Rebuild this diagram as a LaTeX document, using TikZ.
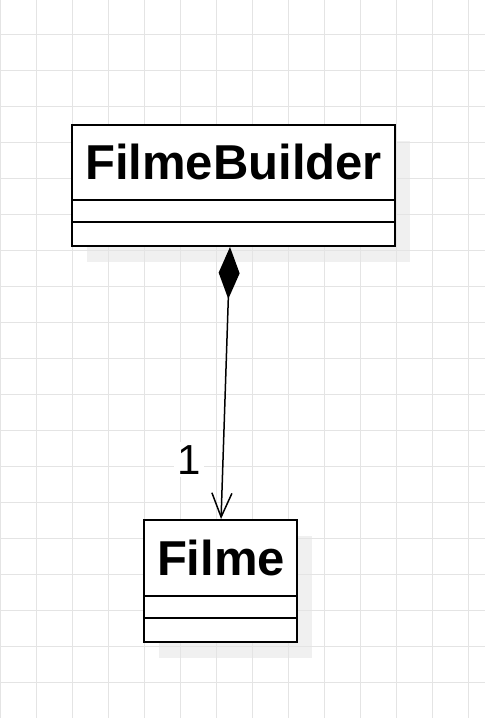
\documentclass[tikz,border=0pt]{standalone}
\usepackage{fontspec}
\setmainfont{Liberation Sans}
\usetikzlibrary{arrows.meta}
\definecolor{gridc}{HTML}{E4E4E4}
\definecolor{shadowc}{HTML}{F0F0F0}
\tikzset{
  gridline/.style={draw=gridc, line width=1.3pt},
  shadowbox/.style={fill=shadowc},
  umlbox/.style={draw=black, fill=white, line width=2pt, rectangle, inner sep=0pt},
  classtitle/.style={font=\fontsize{49}{58}\selectfont\bfseries, inner sep=0pt},
  sepline/.style={draw=black, line width=1.8pt},
  conn/.style={draw=black, line width=1.5pt},
  mult/.style={font=\fontsize{42}{50}\selectfont, fill=white, inner sep=3pt}
}
\begin{document}
\begin{tikzpicture}[x=1pt,y=-1pt]
\useasboundingbox (0,0) rectangle (485,718);
\fill[white] (0,0) rectangle (485,718);
% shadows
\fill[shadowbox] (87,141) rectangle (410,262);
\fill[shadowbox] (159,536) rectangle (311.7,657.7);
% grid
\foreach \i in {0,...,13} \draw[gridline] (36*\i+0.5,0) -- (36*\i+0.5,718);
\foreach \j in {1,...,19} \draw[gridline] (0,36*\j-1.3) -- (485,36*\j-1.3);
% FilmeBuilder
\node[umlbox, minimum width=323pt, minimum height=121pt] (fb) at (233.5,185.5) {};
\node[classtitle, anchor=base] (fbt) at (233.5,179) {FilmeBuilder};
\draw[sepline] ([yshift=-76pt]fb.north west) -- ++(325,0);
\draw[sepline] ([yshift=-98.3pt]fb.north west) -- ++(325,0);
% Filme
\node[umlbox, minimum width=152.7pt, minimum height=121.7pt] (f) at (220.35,580.85) {};
\node[classtitle, anchor=base] (ft) at (221,575) {Filme};
\draw[sepline] ([yshift=-76.7pt]f.north west) -- ++(154,0);
\draw[sepline] ([yshift=-99.3pt]f.north west) -- ++(154,0);
% connector
\draw[conn, {Diamond[length=52pt,width=21pt]}-{Straight Barb[length=24pt,width=20pt]}] ([xshift=-3.5pt]fb.south) -- ([xshift=0.7pt]f.north);
\node[mult, anchor=base] (one) at (189,474.3) {1};
\end{tikzpicture}
\end{document}
